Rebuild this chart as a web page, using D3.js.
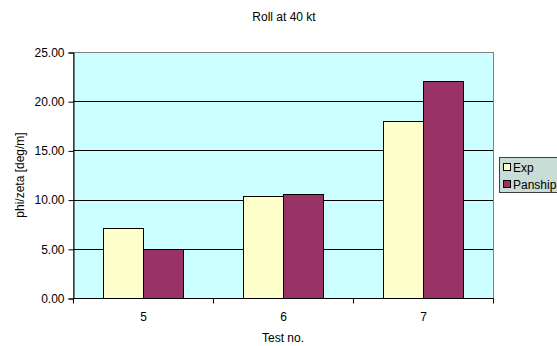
<!DOCTYPE html>
<html><head><meta charset="utf-8">
<script src="https://cdn.jsdelivr.net/npm/d3@7"></script>
<style>body{margin:0;background:#fff}svg{display:block;font-family:"Liberation Sans",Arial,sans-serif}</style>
</head><body><svg id="c" width="557" height="346"></svg>
<script>
const categories = ["5", "6", "7"];
const seriesNames = ["Exp", "Panship"];
const expValues = [7.1, 10.4, 18.0];
const panshipValues = [5.0, 10.6, 22.1];
const yTicks = [0, 5, 10, 15, 20, 25];
const colors = ["#ffffcc", "#993366"];

const FS = 12;
const svg = d3.select("#c");
const L = 73, R = 493, T = 52, B = 298;
const x = d3.scaleBand().domain(categories).range([L, R]).paddingInner(0).paddingOuter(0);
const y = d3.scaleLinear().domain([0, 25]).range([B, T]);
const xs = d3.scaleBand().domain(seriesNames).range([0, x.bandwidth()]).paddingInner(0).paddingOuter(0.75);

svg.append("rect").attr("x", L + 0.5).attr("y", T + 0.5).attr("width", R - L).attr("height", B - T)
  .attr("fill", "#ccffff").attr("stroke", "#808080").attr("stroke-width", 1);

// gridlines
svg.append("g").selectAll("line").data(yTicks.filter(d => d > 0 && d < 25)).join("line")
  .attr("x1", L).attr("x2", R).attr("y1", d => Math.round(y(d)) + 0.5).attr("y2", d => Math.round(y(d)) + 0.5)
  .attr("stroke", "#000").attr("stroke-width", 1);

const data = categories.map((c, i) => ({c, vals: [expValues[i], panshipValues[i]]}));
const g = svg.append("g");
data.forEach(d => {
  d.vals.forEach((v, j) => {
    g.append("rect")
      .attr("x", Math.round(x(d.c) + xs(seriesNames[j])) + 0.5)
      .attr("y", Math.round(y(v)) + 0.5)
      .attr("width", Math.round(xs.bandwidth()))
      .attr("height", B - Math.round(y(v)))
      .attr("fill", colors[j]).attr("stroke", "#000").attr("stroke-width", 1);
  });
});

// y axis
const ya = svg.append("g").attr("transform", `translate(${L + 0.5},0.5)`)
  .call(d3.axisLeft(y).tickValues(yTicks).tickFormat(d3.format(".2f")).tickSizeOuter(0).tickSize(5).tickPadding(4));
ya.select(".domain").attr("stroke", "#000");
ya.selectAll("text").attr("font-size", FS).attr("fill", "#000").attr("font-family", "Liberation Sans, Arial, sans-serif");

// x axis
const xa = svg.append("g").attr("transform", `translate(0.5,${B + 0.5})`);
xa.append("line").attr("x1", L).attr("x2", R).attr("stroke", "#000");
const bounds = [L, ...categories.map(c => x(c) + x.bandwidth())];
xa.selectAll(".tk").data(bounds).join("line").attr("x1", d => d).attr("x2", d => d).attr("y1", 0).attr("y2", 5).attr("stroke", "#000");
xa.selectAll("text").data(categories).join("text").attr("x", d => x(d) + x.bandwidth() / 2).attr("y", 22)
  .attr("text-anchor", "middle").attr("font-size", FS).text(d => d);

svg.append("text").attr("x", 284).attr("y", 21).attr("text-anchor", "middle").attr("font-size", FS).text("Roll at 40 kt");
svg.append("text").attr("x", 283).attr("y", 342).attr("text-anchor", "middle").attr("font-size", FS).text("Test no.");
svg.append("text").attr("transform", `translate(24,${(T + B) / 2}) rotate(-90)`).attr("text-anchor", "middle").attr("font-size", FS).text("phi/zeta [deg/m]");

// legend
const lg = svg.append("g");
lg.append("rect").attr("x", 499.5).attr("y", 157.5).attr("width", 70).attr("height", 35).attr("fill", "#c8ddd5").attr("stroke", "#404040");
seriesNames.forEach((s, i) => {
  lg.append("rect").attr("x", 503.5).attr("y", 163.5 + i * 17).attr("width", 7).attr("height", 7).attr("fill", colors[i]).attr("stroke", "#000");
  lg.append("text").attr("x", 513).attr("y", 172 + i * 17).attr("font-size", FS).text(s);
});
</script></body></html>
